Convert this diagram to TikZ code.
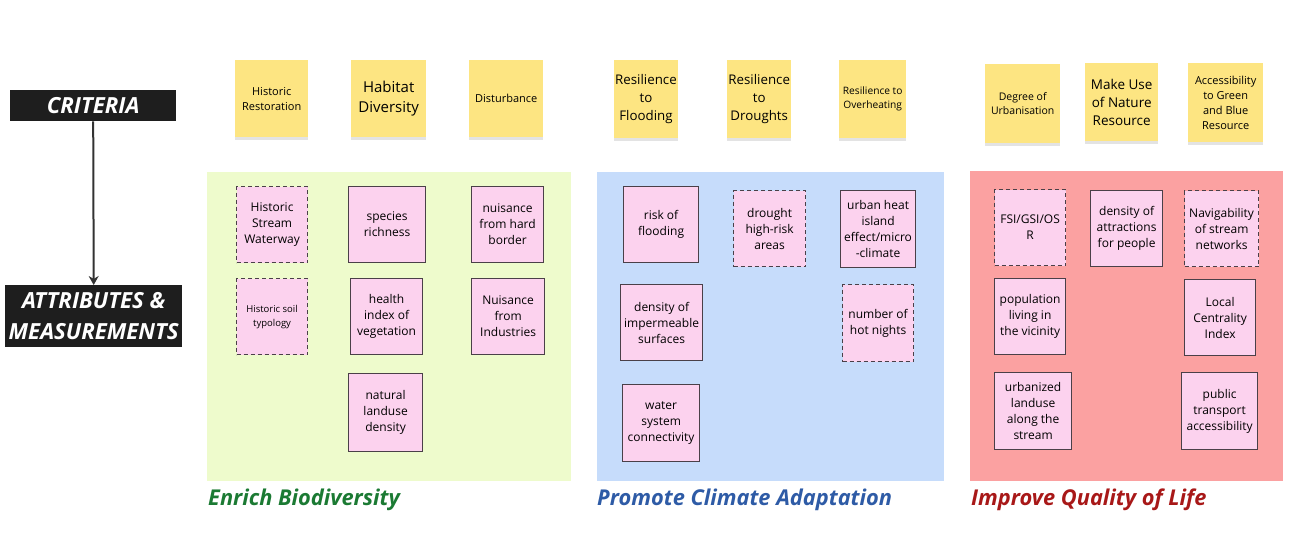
\documentclass[tikz,border=0pt]{standalone}
\usepackage{fontspec}
\setmainfont{Open Sans}
\usetikzlibrary{positioning,shadows,arrows.meta}

\definecolor{noteyellow}{HTML}{FDE582}
\definecolor{cardpink}{HTML}{FCD2EE}
\definecolor{cardedge}{HTML}{4A4048}
\definecolor{headblack}{HTML}{1E1E1E}
\definecolor{biopanel}{HTML}{EEFBCC}
\definecolor{climpanel}{HTML}{C6DCFB}
\definecolor{lifepanel}{HTML}{FBA1A1}
\definecolor{biotext}{HTML}{1B7A33}
\definecolor{climtext}{HTML}{2E5BA6}
\definecolor{lifetext}{HTML}{A81818}

\begin{document}
\begin{tikzpicture}[x=1pt,y=-1pt,
         note/.style = {fill=noteyellow,anchor=north west,align=center,
            inner sep=1pt,drop shadow={shadow xshift=0pt,shadow yshift=-2.5pt,
            opacity=0.22}},
         card/.style = {draw=cardedge,fill=cardpink,line width=1.2pt,
            anchor=north west,align=center,inner sep=1pt,
            font=\fontsize{12}{16}\selectfont},
         dcard/.style = {card,dash pattern=on 4pt off 3pt},
         panel/.style = {anchor=north west,inner sep=0pt},
         header/.style = {fill=headblack,text=white,anchor=north west,
            align=center,font=\bfseries\itshape\fontsize{22.2}{31}\selectfont},
         aim/.style = {anchor=base west,inner sep=0pt,
            font=\bfseries\itshape\fontsize{21.8}{24}\selectfont}
]
         \useasboundingbox (0,0) rectangle (1296,558);

         % criteria -> attributes
         \node[header,minimum width=166pt,minimum height=31pt] (crit)
            at (10,90) {CRITERIA};
         \node[header,minimum width=177pt,minimum height=62pt] (attr)
            at (5,285) {ATTRIBUTES \&\\MEASUREMENTS};
         \draw[draw=black!80,line width=2pt,-{Stealth[length=9pt,width=10pt]}]
            (crit.south) -- (attr.north);

         % panels
         \node[panel,fill=biopanel,minimum width=364pt,minimum height=309pt]
            (bio) at (207,172) {};
         \node[panel,fill=climpanel,minimum width=347pt,minimum height=309pt]
            (clim) at (597,172) {};
         \node[panel,fill=lifepanel,minimum width=313pt,minimum height=310pt]
            (life) at (970,171) {};

         \node[aim,text=biotext]  (biot)  at (208,505) {Enrich Biodiversity};
         \node[aim,text=climtext] (climt) at (597,505) {Promote Climate Adaptation};
         \node[aim,text=lifetext] (lifet) at (971,505) {Improve Quality of Life};

         % criteria notes
         \node[note,minimum width=73pt,minimum height=77pt,
            font=\fontsize{11}{15}\selectfont] (hres) at (235,60)
            {Historic\\Restoration};
         \node[note,minimum width=75pt,minimum height=77pt,
            font=\fontsize{15}{20}\selectfont] (hdiv) at (351,60)
            {Habitat\\Diversity};
         \node[note,minimum width=74pt,minimum height=77pt,
            font=\fontsize{11}{15}\selectfont] (dist) at (469,60)
            {Disturbance};
         \node[note,minimum width=62pt,minimum height=78pt,
            font=\fontsize{13.3}{18}\selectfont] (rflood) at (614,60)
            {Resilience\\to\\Flooding};
         \node[note,minimum width=64pt,minimum height=78pt,
            font=\fontsize{13.3}{18}\selectfont] (rdrought) at (727,60)
            {Resilience\\to\\Droughts};
         \node[note,minimum width=67pt,minimum height=78pt,
            font=\fontsize{10.2}{14}\selectfont] (rheat) at (839,60)
            {Resilience to\\Overheating};
         \node[note,minimum width=75pt,minimum height=79pt,
            font=\fontsize{10.5}{14}\selectfont] (urb) at (985,64)
            {Degree of\\Urbanisation};
         \node[note,minimum width=73pt,minimum height=78pt,
            font=\fontsize{13.5}{18}\selectfont] (nature) at (1085,63)
            {Make Use\\of Nature\\Resource};
         \node[note,minimum width=75pt,minimum height=79pt,
            font=\fontsize{11}{15}\selectfont] (access) at (1188,63)
            {Accessibility\\to Green\\and Blue\\Resource};

         % biodiversity measurements
         \node[dcard,minimum width=71pt,minimum height=76pt] (hsw)
            at (236,186) {Historic\\Stream\\Waterway};
         \node[card,minimum width=77pt,minimum height=76pt] (spec)
            at (348,186) {species\\richness};
         \node[card,minimum width=72pt,minimum height=76pt] (nhb)
            at (471,186) {nuisance\\from hard\\border};
         \node[dcard,minimum width=71pt,minimum height=76pt,
            font=\fontsize{9.5}{14}\selectfont] (hsoil)
            at (236,278) {Historic soil\\typology};
         \node[card,minimum width=72pt,minimum height=76pt] (health)
            at (350,278) {health\\index of\\vegetation};
         \node[card,minimum width=73pt,minimum height=76pt] (nind)
            at (471,278) {Nuisance\\from\\Industries};
         \node[card,minimum width=74pt,minimum height=78pt] (natl)
            at (348,373) {natural\\landuse\\density};

         % climate measurements
         \node[card,minimum width=75pt,minimum height=76pt] (risk)
            at (623,186) {risk of\\flooding};
         \node[dcard,minimum width=72pt,minimum height=76pt] (drought)
            at (733,190) {drought\\high-risk\\areas};
         \node[card,minimum width=75pt,minimum height=77pt] (uhi)
            at (840,190) {urban heat\\island\\effect/micro\\-climate};
         \node[card,minimum width=82pt,minimum height=76pt] (imperm)
            at (620,284) {density of\\impermeable\\surfaces};
         \node[dcard,minimum width=71pt,minimum height=77pt] (hotn)
            at (842,284) {number of\\hot nights};
         \node[card,minimum width=77pt,minimum height=77pt] (water)
            at (622,384) {water\\system\\connectivity};

         % quality of life measurements
         \node[dcard,minimum width=71pt,minimum height=76pt] (fsi)
            at (994,189) {FSI/GSI/OS\\R};
         \node[card,minimum width=72pt,minimum height=76pt] (attrac)
            at (1090,190) {density of\\attractions\\for people};
         \node[dcard,minimum width=74pt,minimum height=76pt] (navig)
            at (1184,190) {Navigability\\of stream\\networks};
         \node[card,minimum width=71pt,minimum height=76pt] (pop)
            at (994,278) {population\\living in\\the vicinity};
         \node[card,minimum width=71pt,minimum height=76pt] (lci)
            at (1184,279) {Local\\Centrality\\Index};
         \node[card,minimum width=77pt,minimum height=77pt] (urbl)
            at (994,372) {urbanized\\landuse\\along the\\stream};
         \node[card,minimum width=76pt,minimum height=77pt] (pta)
            at (1181,372) {public\\transport\\accessibility};
\end{tikzpicture}
\end{document}
